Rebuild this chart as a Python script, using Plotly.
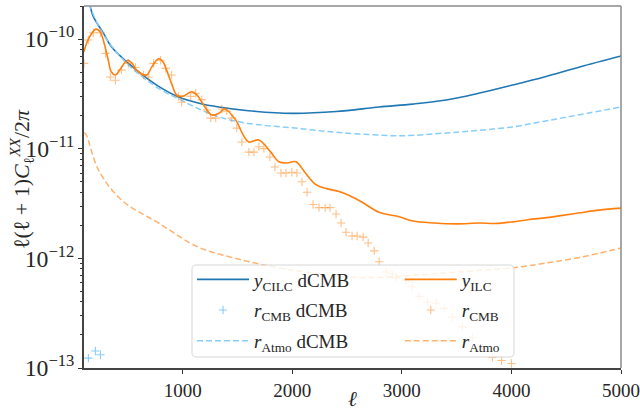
import plotly.graph_objects as go

# Multipole grid and residual spectra, l(l+1)C_l/2pi
ell_cilc = [100, 150, 185, 277, 350, 506, 661, 800, 963, 1150, 1330, 1600, 2000,
            2400, 2793, 3100, 3406, 3700, 4010, 4300, 4623, 5000]
y_cilc_dcmb = [3.2e-10, 2.1e-10, 1.6e-10, 1.13e-10, 8.5e-11, 6.0e-11, 4.5e-11, 3.6e-11,
               2.96e-11, 2.6e-11, 2.4e-11, 2.22e-11, 2.1e-11, 2.18e-11, 2.4e-11, 2.55e-11,
               2.78e-11, 3.2e-11, 3.8e-11, 4.5e-11, 5.56e-11, 7.0e-11]

ell_atmo_dcmb = [100, 150, 277, 506, 800, 963, 1150, 1330, 1600, 2000, 2400, 2793,
                 3000, 3406, 3700, 4010, 4300, 4623, 5000]
r_atmo_dcmb = [3.0e-10, 2.05e-10, 1.1e-10, 5.8e-11, 3.45e-11, 2.85e-11, 2.3e-11, 1.95e-11,
               1.7e-11, 1.55e-11, 1.41e-11, 1.33e-11, 1.31e-11, 1.39e-11, 1.47e-11,
               1.58e-11, 1.78e-11, 2.04e-11, 2.4e-11]

ell_cmb_dcmb = [140, 204, 250]
r_cmb_dcmb = [1.23e-13, 1.43e-13, 1.32e-13]

ell_ilc = [100, 140, 210, 250, 283, 320, 350, 387, 430, 497, 540, 579, 671, 720, 780,
           820, 854, 900, 945, 1000, 1082, 1130, 1192, 1265, 1330, 1384, 1485, 1550,
           1604, 1695, 1805, 1878, 1950, 2034, 2120, 2217, 2320, 2427, 2530, 2638, 2793,
           2976, 3102, 3300, 3498, 3708, 3850, 4010, 4150, 4321, 4450, 4623, 4800, 5000]
y_ilc = [7.7e-11, 1.0e-10, 1.23e-10, 1.15e-10, 9.2e-11, 6.5e-11, 5.0e-11, 4.7e-11,
         5.3e-11, 6.4e-11, 6.0e-11, 5.2e-11, 4.7e-11, 5.6e-11, 6.6e-11, 6.2e-11, 5.2e-11,
         3.9e-11, 3.1e-11, 3.0e-11, 3.3e-11, 3.1e-11, 2.5e-11, 2.03e-11, 2.1e-11, 2.3e-11,
         1.82e-11, 1.35e-11, 1.15e-11, 1.2e-11, 9.3e-12, 7.6e-12, 7.4e-12, 7.6e-12, 6.0e-12,
         4.7e-12, 4.3e-12, 4.07e-12, 3.7e-12, 3.25e-12, 2.63e-12, 2.39e-12, 2.19e-12,
         2.1e-12, 2.06e-12, 2.1e-12, 2.08e-12, 2.15e-12, 2.25e-12, 2.35e-12, 2.45e-12,
         2.6e-12, 2.75e-12, 2.87e-12]

ell_cmb = [100, 140, 185, 250, 296, 340, 387, 442, 506, 570, 643, 689, 735, 799, 845,
           900, 963, 991, 1073, 1119, 1174, 1220, 1256, 1302, 1357, 1403, 1448, 1494,
           1540, 1604, 1650, 1695, 1741, 1796, 1842, 1897, 1943, 1997, 2043, 2089, 2135,
           2190, 2244, 2300, 2345, 2400, 2446, 2491, 2546, 2592, 2647, 2693, 2748, 2793,
           2857, 2912, 2949, 3040, 3095, 3159, 3233, 3315, 3388, 3461, 3553, 3644, 3736,
           3827, 3910, 4000]
r_cmb = [6.0e-11, 9.8e-11, 1.14e-10, 1.14e-10, 7.4e-11, 4.5e-11, 4.2e-11, 5.2e-11,
         6.0e-11, 5.5e-11, 4.7e-11, 4.5e-11, 6.0e-11, 6.4e-11, 5.4e-11, 4.7e-11, 3.0e-11,
         2.65e-11, 3.0e-11, 3.2e-11, 2.8e-11, 2.25e-11, 1.9e-11, 1.9e-11, 2.3e-11, 2.2e-11,
         1.9e-11, 1.54e-11, 1.15e-11, 9.3e-12, 9.3e-12, 1.04e-11, 1.0e-11, 8.4e-12, 6.8e-12,
         6.0e-12, 6.0e-12, 6.1e-12, 6.0e-12, 5.0e-12, 4.0e-12, 3.1e-12, 2.9e-12, 2.9e-12,
         2.9e-12, 2.54e-12, 2.1e-12, 1.73e-12, 1.6e-12, 1.6e-12, 1.56e-12, 1.38e-12,
         1.17e-12, 9.3e-13, 7.5e-13, 7.2e-13, 6.6e-13, 6.3e-13, 5.5e-13, 4.5e-13, 4.0e-13,
         3.9e-13, 3.5e-13, 2.9e-13, 2.37e-13, 1.9e-13, 1.54e-13, 1.25e-13, 1.17e-13, 1.1e-13]

ell_atmo = [100, 118, 232, 442, 780, 1146, 1448, 1695, 1970, 2491, 2800, 3095, 3500,
            4010, 4300, 4623, 5000]
r_atmo = [1.4e-11, 1.35e-11, 6.4e-12, 3.4e-12, 2.1e-12, 1.26e-12, 1.02e-12, 8.9e-13,
          7.9e-13, 6.8e-13, 6.7e-13, 7.0e-13, 7.5e-13, 8.2e-13, 9.0e-13, 1.02e-12, 1.24e-12]

ell_ticks = [1000, 2000, 3000, 4000, 5000]

C0 = "#1f77b4"
C1 = "#ff7f0e"
LIGHT = "#87cefa"
FONT = "Liberation Serif"
TEXT = "#262626"

fig = go.Figure()

fig.add_trace(go.Scatter(x=ell_cilc, y=y_cilc_dcmb, mode="lines", line_shape="spline",
                         line=dict(color=C0, width=1.6), legendgroup="a1",
                         name="<i>y</i><sub>CILC</sub> dCMB", legend="legend"))
fig.add_trace(go.Scatter(x=ell_cmb_dcmb, y=r_cmb_dcmb, mode="markers", legendgroup="a2",
                         marker=dict(symbol="cross-thin", size=6, line=dict(color=LIGHT, width=1.1)),
                         name="<i>r</i><sub>CMB</sub> dCMB", legend="legend"))
fig.add_trace(go.Scatter(x=ell_atmo_dcmb, y=r_atmo_dcmb, mode="lines", line_shape="spline",
                         line=dict(color=LIGHT, width=1.5, dash="6px,3px"), legendgroup="a3",
                         name="<i>r</i><sub>Atmo</sub> dCMB", legend="legend"))
fig.add_trace(go.Scatter(x=ell_ilc, y=y_ilc, mode="lines", line_shape="spline",
                         line=dict(color=C1, width=1.6), legendgroup="b1",
                         name="<i>y</i><sub>ILC</sub>", legend="legend2"))
fig.add_trace(go.Scatter(x=ell_cmb, y=r_cmb, mode="markers", legendgroup="b2",
                         marker=dict(symbol="cross-thin", size=6,
                                     line=dict(color="rgba(255,127,14,0.5)", width=1.1)),
                         name="<i>r</i><sub>CMB</sub>", legend="legend2"))
fig.add_trace(go.Scatter(x=ell_atmo, y=r_atmo, mode="lines", line_shape="spline",
                         line=dict(color="rgba(255,127,14,0.6)", width=1.5, dash="6px,3px"),
                         legendgroup="b3", name="<i>r</i><sub>Atmo</sub>", legend="legend2"))

axis_font = dict(family=FONT, size=19, color=TEXT)
legend_font = dict(family=FONT, size=19, color=TEXT)

fig.update_layout(
    width=640, height=417,
    margin=dict(l=84, r=19, t=6, b=49, autoexpand=False),
    paper_bgcolor="white", plot_bgcolor="white",
    font=dict(family=FONT, size=19, color=TEXT),
    xaxis=dict(range=[100, 5000], tickvals=ell_ticks, ticks="outside", ticklen=4,
               tickcolor="#333", linecolor="#444", linewidth=1.6, showline=True,
               showgrid=False, zeroline=False, tickfont=axis_font, automargin=False),
    yaxis=dict(type="log", range=[-13, -9.699], dtick=1, exponentformat="power",
               ticks="outside", ticklen=4, tickcolor="#333", linecolor="#444",
               linewidth=1.6, showline=True, showgrid=False, zeroline=False,
               tickfont=axis_font, automargin=False,
               minor=dict(ticks="outside", ticklen=2, tickcolor="#333", showgrid=False)),
    legend=dict(x=0.2011, y=0.297, xanchor="left", yanchor="top", bgcolor="rgba(0,0,0,0)",
                font=legend_font, itemwidth=52, tracegroupgap=3),
    legend2=dict(x=0.588, y=0.297, xanchor="left", yanchor="top", bgcolor="rgba(0,0,0,0)",
                 font=legend_font, itemwidth=52, tracegroupgap=3),
    showlegend=True,
)

# Axis titles
fig.add_annotation(text="<i>ℓ</i>", xref="paper", yref="paper", x=0.5, y=-0.085,
                   xanchor="center", yanchor="middle", showarrow=False,
                   font=dict(family=FONT, size=21, color=TEXT))
fig.add_annotation(text="ℓ(ℓ + 1)<i>C</i><sub>ℓ</sub><sup><i>XX</i></sup>/2<i>π</i>",
                   xref="paper", yref="paper", x=-0.1173, y=0.522, textangle=-90,
                   xanchor="center", yanchor="middle", showarrow=False,
                   font=dict(family=FONT, size=22, color=TEXT))

# Frame: lighter top/right spines and a rounded, translucent legend box
fig.add_shape(type="line", xref="paper", yref="paper", x0=0, x1=1, y0=1, y1=1,
              line=dict(color="#8a8a8a", width=1.5))
fig.add_shape(type="line", xref="paper", yref="paper", x0=1, x1=1, y0=0, y1=1,
              line=dict(color="#8a8a8a", width=1.5))
x0, x1, y0, y1 = 0.2011, 0.8007, 0.0304, 0.2845
rx, ry = 0.008, 0.012
box = (f"M{x0+rx},{y0} L{x1-rx},{y0} Q{x1},{y0} {x1},{y0+ry} L{x1},{y1-ry} "
       f"Q{x1},{y1} {x1-rx},{y1} L{x0+rx},{y1} Q{x0},{y1} {x0},{y1-ry} "
       f"L{x0},{y0+ry} Q{x0},{y0} {x0+rx},{y0} Z")
fig.add_shape(type="path", xref="paper", yref="paper", path=box, layer="above",
              fillcolor="rgba(255,255,255,0.8)", line=dict(color="#d6d6d6", width=1))

fig.write_html("out.html")
